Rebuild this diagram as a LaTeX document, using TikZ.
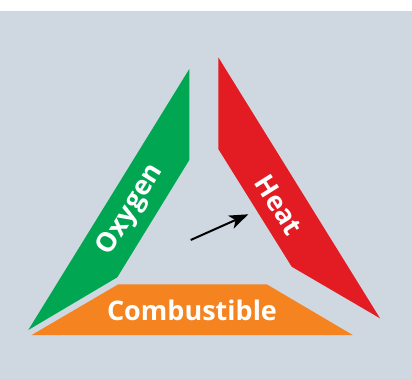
\documentclass[tikz,border=0pt]{standalone}
\usepackage{fontspec}
\setmainfont{Open Sans}
\usetikzlibrary{arrows.meta}
\definecolor{bggray}{RGB}{207,216,224}
\definecolor{oxgreen}{RGB}{0,166,81}
\definecolor{heatred}{RGB}{227,27,35}
\definecolor{fuelorange}{RGB}{245,131,32}
\tikzset{label/.style={text=white, font=\fontsize{27}{30}\selectfont\bfseries, inner sep=0pt}}

\begin{document}
\begin{tikzpicture}[x=1pt, y=-1pt]
			%%%%% START %%%%%
			\useasboundingbox (0, 0) rectangle (412, 379);
			\fill[white] (0, 0) rectangle (412, 11);
			\fill[bggray] (0, 11) rectangle (412, 379);
			
			\fill[oxgreen] (28.3, 330) -- (189.3, 69) -- (189.3, 160) -- (117.3, 277.3) -- cycle;
			\fill[heatred] (218.3, 57.3) -- (380, 318.3) -- (291.7, 266.7) -- (218.3, 149) -- cycle;
			\fill[fuelorange] (31.7, 335) -- (118.3, 284.3) -- (266.7, 284.3) -- (352.7, 335) -- cycle;
			
			\node[label, rotate=58.3] (oxygen) at (131, 210) {Oxygen};
			\node[label, rotate=-57.9] (heat) at (279, 205) {Heat};
			\node[label, anchor=base] (fuel) at (192, 320) {Combustible};
			
			\coordinate (tail) at (190.7, 240);
			\coordinate (tip) at (248.3, 214.3);
			\draw[line width=2pt, -{Stealth[length=19pt, width=14pt, inset=5pt]}] (tail) -- (tip);
			%%%%% END %%%%%
\end{tikzpicture}
\end{document}
